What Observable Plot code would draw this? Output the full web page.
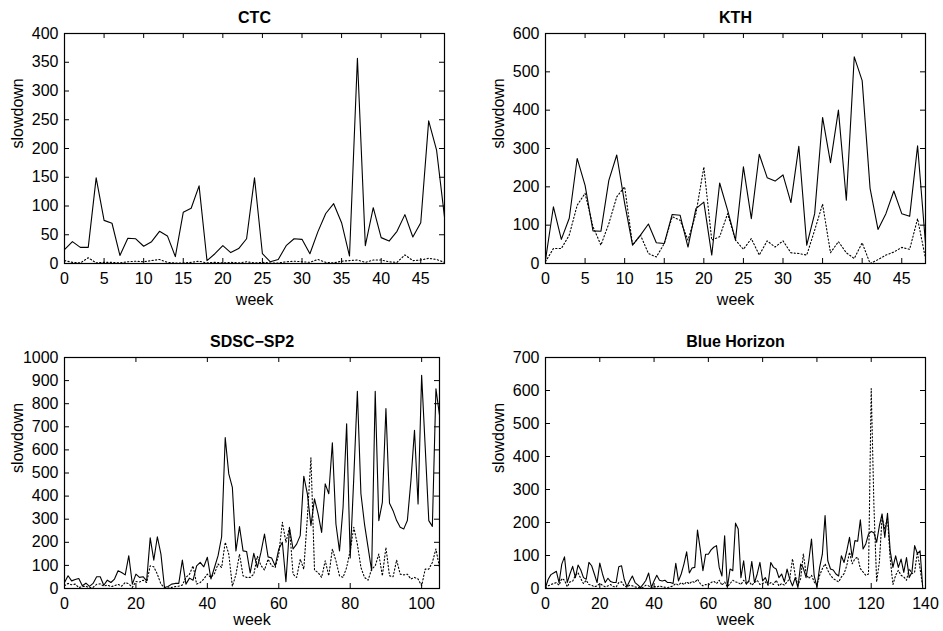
<!DOCTYPE html>
<html>
<head>
<meta charset="utf-8">
<script src="https://cdn.jsdelivr.net/npm/d3@7"></script>
<script src="https://cdn.jsdelivr.net/npm/@observablehq/plot@0.6"></script>
<style>
  html, body { margin: 0; padding: 0; background: #fff; }
  #root { position: relative; width: 943px; height: 631px; background: #fff; overflow: hidden; }
  #root svg { position: absolute; }
</style>
</head>
<body>
<div id="root"></div>
<script>
// ---------- data ----------
const ctcSolid = [24,38,28,28,149,75,70,14,44,43, 30,38,56,48,12,89,96,135,5,17, 31,19,26,43,149,17,3,7,31,43, 42,17,55,87,104,71,13,357,31,97, 45,39,56,85,46,71,248,197,81];
const ctcDotted = [5,2,1,10,1,2,2,1,3,4, 3,5,7,2,1,1,2,4,1,2, 1,2,1,3,1,2,1,1,3,4, 3,2,7,2,1,4,5,6,2,6, 6,3,2,15,5,6,9,7,2];

const kthSolid = [9,148,63,118,274,204,85,84,217,283, 157,48,74,103,54,52,128,126,43,143, 160,22,210,139,61,252,117,285,224,215, 231,159,306,48,130,381,263,400,165,539, 477,196,89,130,189,130,123,307,52];
const kthDotted = [5,39,39,74,152,183,96,48,104,174, 200,48,74,26,17,52,122,113,61,130, 252,61,70,130,61,37,65,22,59,43, 59,28,26,22,87,155,28,57,28,13, 54,0,10,22,30,42,37,117,13];

const sdscSolid = [26,55,33,39,43,12,23,9,22,51, 51,14,36,26,41,77,69,59,142,19, 62,48,51,33,219,123,224,149,4,9, 19,22,22,123,19,45,36,98,113,94, 135,41,91,142,224,653,496,438,163,268, 163,160,67,152,91,156,236,137,132,98, 171,200,29,262,171,192,229,486,410,272, 388,323,243,453,410,631,279,163,352,713, 132,480,854,410,279,178,77,854,294,373, 779,369,337,294,265,258,294,467,685,366, 923,612,294,269,865,750];
const sdscDotted = [12,22,16,19,4,8,10,3,5,18, 20,10,15,8,12,18,10,26,20,5, 30,28,36,26,98,94,62,19,4,2, 5,8,10,15,48,62,98,19,26,41, 62,48,65,106,91,200,149,10,60,149, 55,48,48,62,140,100,80,127,98,91, 149,287,200,265,62,48,127,84,308,566, 80,69,48,120,55,171,120,55,48,91, 164,265,192,91,48,36,84,98,149,55, 178,55,51,123,62,59,62,41,48,41, 12,84,84,113,171,91];

const bhSolid = [3,28,42,47,52,18,74,96,18,44, 67,33,71,56,33,28,79,69,44,18, 77,44,18,31,21,18,18,66,69,28, 5,23,38,18,11,3,13,25,47,3, 23,40,25,23,25,18,18,15,76,23, 44,74,111,47,62,64,177,120,54,104, 104,117,125,130,64,38,160,3,59,54, 198,180,33,84,13,25,82,18,44,79, 23,33,13,79,64,59,33,44,20,59, 28,8,33,3,74,62,33,84,150,38, 5,64,104,221,84,59,56,44,38,99, 79,114,155,94,145,143,208,120,135,165, 173,169,140,190,226,155,228,114,64,99, 64,89,49,94,33,49,130,106,114,0];
const bhDotted = [2,8,12,15,18,10,30,25,5,20, 22,40,48,30,15,25,12,10,5,8, 15,10,5,8,12,6,4,18,20,8, 4,10,8,5,3,2,4,10,8,2, 6,4,8,5,4,3,5,8,15,10, 18,12,20,14,22,18,28,15,8,12, 10,18,22,15,25,10,20,5,15,25, 20,18,12,25,15,22,10,18,25,12, 15,20,10,18,12,25,8,15,10,20, 30,90,40,10,30,105,45,30,40,20, 10,40,60,75,55,40,30,25,20,35, 45,70,110,75,90,95,60,50,40,44, 606,250,20,80,215,180,215,90,12,40, 55,40,35,25,60,45,50,110,60,5];

const titles = ["CTC", "KTH", "SDSC\u2212SP2", "Blue Horizon"];
const weekTicksA = [0,5,10,15,20,25,30,35,40,45];
const weekTicksB = [0,20,40,60,80,100];
const weekTicksC = [0,20,40,60,80,100,120,140];
const ctcYTicks = [0,50,100,150,200,250,300,350,400];
const kthYTicks = [0,100,200,300,400,500,600];
const sdscYTicks = [0,100,200,300,400,500,600,700,800,900,1000];
const bhYTicks = [0,100,200,300,400,500,600,700];
const xLabel = "week";
const yLabel = "slowdown";

// ---------- drawing ----------
const FONT = "'Liberation Sans', Arial, Helvetica, sans-serif";

function toRows(values) { return values.map((v, i) => ({week: i, value: v})); }

function panel(cfg) {
  const fw = cfg.width - cfg.ml - cfg.mr;
  const fh = cfg.height - cfg.mt - cfg.mb;
  const tl = 5;
  const svg = Plot.plot({
    width: cfg.width, height: cfg.height,
    marginLeft: cfg.ml, marginRight: cfg.mr, marginTop: cfg.mt, marginBottom: cfg.mb,
    style: {fontFamily: FONT, fontSize: "16px", background: "white", color: "black", overflow: "visible"},
    x: {domain: cfg.xDomain},
    y: {domain: cfg.yDomain},
    marks: [
      Plot.line(toRows(cfg.dotted), {x: "week", y: "value", stroke: "black", strokeWidth: 1.1, strokeDasharray: "1.3,2.2"}),
      Plot.line(toRows(cfg.solid), {x: "week", y: "value", stroke: "black", strokeWidth: 1.1}),
      Plot.tickX(cfg.xTicks, {x: d => d, insetTop: fh - tl, stroke: "black"}),
      Plot.tickX(cfg.xTicks, {x: d => d, insetBottom: fh - tl, stroke: "black"}),
      Plot.tickY(cfg.yTicks, {y: d => d, insetLeft: fw - tl, stroke: "black"}),
      Plot.tickY(cfg.yTicks, {y: d => d, insetRight: fw - tl, stroke: "black"}),
      Plot.frame({stroke: "black", strokeWidth: 1.2}),
      Plot.axisX({ticks: cfg.xTicks, tickSize: 0, tickPadding: 9, label: null, fontSize: 16, tickFormat: d => String(d)}),
      Plot.axisY({ticks: cfg.yTicks, tickSize: 0, tickPadding: 6, label: null, fontSize: 16, tickFormat: d => String(d)}),
      Plot.text([cfg.title], {text: d => d, frameAnchor: "top", lineAnchor: "middle", dy: -16, fontWeight: "bold", fontSize: 16}),
      Plot.text([xLabel], {text: d => d, frameAnchor: "bottom", lineAnchor: "middle", dy: cfg.weekDy, fontSize: 16}),
      Plot.text([yLabel], {text: d => d, frameAnchor: "left", lineAnchor: "middle", rotate: -90, dx: -47, fontSize: 16})
    ]
  });
  svg.style.left = cfg.left + "px";
  svg.style.top = cfg.top + "px";
  document.getElementById("root").appendChild(svg);
}

panel({title: titles[0], solid: ctcSolid, dotted: ctcDotted, xDomain: [0, 48], xTicks: weekTicksA, yDomain: [0, 400], yTicks: ctcYTicks,
  left: 0, top: 0, width: 471, height: 316, ml: 64, mr: 27, mt: 33, mb: 53, weekDy: 36});
panel({title: titles[1], solid: kthSolid, dotted: kthDotted, xDomain: [0, 48], xTicks: weekTicksA, yDomain: [0, 600], yTicks: kthYTicks,
  left: 471, top: 0, width: 472, height: 316, ml: 74, mr: 18, mt: 33, mb: 53, weekDy: 36});
panel({title: titles[2], solid: sdscSolid, dotted: sdscDotted, xDomain: [0, 105], xTicks: weekTicksB, yDomain: [0, 1000], yTicks: sdscYTicks,
  left: 0, top: 316, width: 471, height: 315, ml: 64, mr: 32, mt: 41, mb: 43, weekDy: 31});
panel({title: titles[3], solid: bhSolid, dotted: bhDotted, xDomain: [0, 140], xTicks: weekTicksC, yDomain: [0, 700], yTicks: bhYTicks,
  left: 471, top: 316, width: 472, height: 315, ml: 74, mr: 18, mt: 41, mb: 43, weekDy: 31});
</script>
</body>
</html>
